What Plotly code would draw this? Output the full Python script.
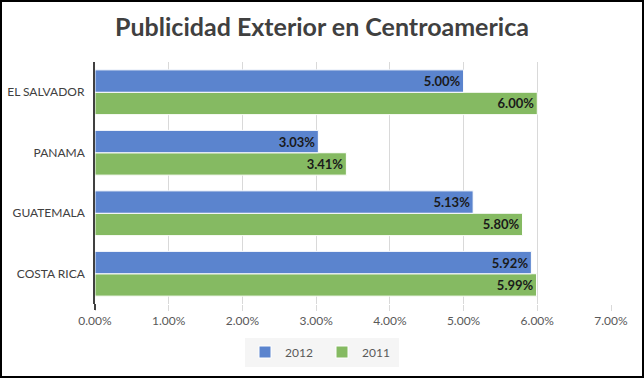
import plotly.graph_objects as go

categories = ["COSTA RICA", "GUATEMALA", "PANAMA", "EL SALVADOR"]
values_2012 = [0.0592, 0.0513, 0.0303, 0.0500]
values_2011 = [0.0599, 0.0580, 0.0341, 0.0600]
tick_vals = [0, 0.01, 0.02, 0.03, 0.04, 0.05, 0.06, 0.07]

W, H = 644, 378
ml, mr, mt, mb = 95, 33, 62, 74
pw, ph = W - ml - mr, H - mt - mb

FONT = "Lato, Open Sans, sans-serif"
fig = go.Figure()
common = dict(orientation="h", textposition="inside", insidetextanchor="end",
              texttemplate="%{x:.2%}", cliponaxis=False,
              textfont=dict(family=FONT, size=13, color="#1a1a1a", weight="bold"),
              marker_line=dict(color="white", width=1), hoverinfo="x+y")
fig.add_trace(go.Bar(name="2011", y=categories, x=values_2011, marker_color="#85BA62", legendrank=2, **common))
fig.add_trace(go.Bar(name="2012", y=categories, x=values_2012, marker_color="#5B84CE", legendrank=1, **common))

fig.update_layout(
    width=W, height=H, barmode="group", bargap=0.26, bargroupgap=0,
    margin=dict(l=ml, r=mr, t=mt, b=mb, autoexpand=False),
    paper_bgcolor="white", plot_bgcolor="white",
    font=dict(family=FONT, size=12, color="#595959"),
    title=dict(text="<b>Publicidad Exterior en Centroamerica</b>", x=0.5, xref="container",
               xanchor="center", y=1 - 27 / H, yanchor="middle",
               font=dict(family=FONT, size=25, color="#404040")),
    xaxis=dict(range=[0, 0.07], tickvals=tick_vals, tickformat=".2%", automargin=False,
               showgrid=True, gridcolor="#D9D9D9", gridwidth=1, zeroline=False,
               ticks="outside", ticklen=6, tickcolor="#D9D9D9", showline=False,
               tickfont=dict(size=12, color="#595959")),
    yaxis=dict(showline=True, linecolor="#404040", linewidth=2, ticks="", showgrid=False,
               automargin=False, tickfont=dict(size=12, color="#404040"), ticksuffix="  "),
    legend=dict(orientation="h", x=0.5, xanchor="center", xref="container",
                y=1 - 352 / H, yref="container", yanchor="middle",
                bgcolor="#F5F5F5", font=dict(size=12, color="#595959"),
                itemwidth=30, traceorder="normal", entrywidth=32, entrywidthmode="pixels"),
    showlegend=True,
)
fig.add_shape(type="line", xref="paper", yref="paper", x0=0, x1=0, y0=0, y1=-6 / ph,
              line=dict(color="#404040", width=2))
fig.add_shape(type="rect", xref="paper", yref="paper",
              x0=(1 - ml) / pw, x1=(W - 1 - ml) / pw,
              y0=-(H - 1 - mt - ph) / ph, y1=(ph + mt - 1) / ph,
              line=dict(color="black", width=2), fillcolor="rgba(0,0,0,0)", layer="above")
fig.write_html("out.html", config={"displayModeBar": False},
               post_script="document.body.style.margin='0';")
